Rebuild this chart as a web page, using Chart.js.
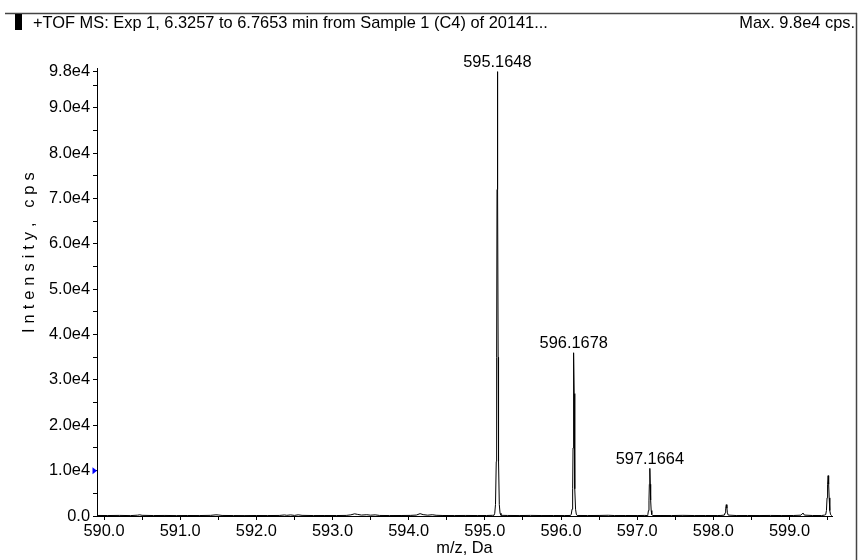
<!DOCTYPE html>
<html>
<head>
<meta charset="utf-8">
<script src="https://cdn.jsdelivr.net/npm/chart.js@4.4.1/dist/chart.umd.min.js"></script>
<style>
  html, body { margin: 0; padding: 0; background: #fff; }
  canvas { display: block; }
</style>
</head>
<body>
<canvas id="spectrum" width="859" height="560"></canvas>
<script>
// Header and axis texts
const headerText = '+TOF MS: Exp 1, 6.3257 to 6.7653 min from Sample 1 (C4) of 20141...';
const maxText = 'Max. 9.8e4 cps.';
const xTitle = 'm/z, Da';
const yTitle = 'Intensity, cps';

// Profile spectrum: m/z (Da) and intensity (cps)
const mz = [
  589.91, 590.05, 590.20, 590.35, 590.44, 590.47, 590.50, 590.65, 590.80, 590.95,
  591.10, 591.25, 591.40, 591.47, 591.50, 591.55, 591.70, 591.85, 592.00, 592.15,
  592.30, 592.37, 592.40, 592.45, 592.50, 592.55, 592.60, 592.75, 592.90, 593.05,
  593.18, 593.24, 593.29, 593.33, 593.38, 593.45, 593.50, 593.56, 593.62, 593.75,
  593.90, 594.02, 594.10, 594.15, 594.19, 594.25, 594.31, 594.36, 594.45, 594.60,
  594.75, 594.90, 595.02, 595.10,
  595.120, 595.130, 595.140, 595.150, 595.155, 595.160, 595.1648, 595.170, 595.175, 595.180,
  595.190, 595.200, 595.212,
  595.30, 595.45, 595.60, 595.75, 595.90, 596.05,
  596.125, 596.135, 596.145, 596.153, 596.158, 596.163, 596.1678, 596.173, 596.178, 596.183,
  596.191, 596.201, 596.212,
  596.35, 596.50, 596.62, 596.70, 596.85, 597.00, 597.10,
  597.130, 597.140, 597.148, 597.155, 597.160, 597.1664, 597.172, 597.177, 597.184, 597.192,
  597.203,
  597.30, 597.45, 597.60, 597.75, 597.90, 598.05, 598.10,
  598.145, 598.155, 598.162, 598.170, 598.178, 598.185, 598.195,
  598.30, 598.45, 598.60, 598.75, 598.90, 599.05, 599.15, 599.178, 599.195, 599.30,
  599.42, 599.46,
  599.475, 599.485, 599.493, 599.500, 599.507, 599.514, 599.521, 599.529, 599.539, 599.550,
  599.558
];
const intensity = [
  120, 100, 130, 90, 180, 260, 150, 100, 120, 90,
  110, 100, 140, 260, 230, 120, 100, 90, 110, 100,
  120, 230, 150, 240, 130, 260, 140, 100, 110, 100,
  130, 250, 480, 350, 200, 280, 180, 250, 120, 100,
  110, 130, 200, 520, 300, 180, 280, 160, 110, 100,
  120, 100, 110, 150,
  150, 600, 2500, 12000, 35000, 72000, 98000, 72000, 35000, 12000,
  2500, 600, 150,
  120, 100, 130, 100, 110, 100,
  120, 400, 1500, 6000, 15000, 27000, 36000, 27000, 15000, 6000,
  1500, 400, 120,
  100, 120, 160, 100, 110, 100, 130,
  100, 300, 1200, 3500, 7000, 10500, 7000, 3500, 1200, 300,
  100,
  110, 100, 140, 100, 110, 100, 120,
  200, 700, 1700, 2500, 1700, 700, 200,
  100, 110, 100, 120, 100, 110, 180, 650, 200, 110,
  100, 200,
  300, 1200, 4000, 7000, 8900, 7000, 4000, 1200, 300, 150,
  120
];

// Annotated peaks
const peakMz = [595.1648, 596.1678, 597.1664];
const peakIntensity = [98000, 36000, 10500];

// Axis ticks
const xMajorTicks = [590, 591, 592, 593, 594, 595, 596, 597, 598, 599];
const xTickLabels = ['590.0', '591.0', '592.0', '593.0', '594.0', '595.0', '596.0', '597.0', '598.0', '599.0'];
const xMinorTicks = [590.5, 591.5, 592.5, 593.5, 594.5, 595.5, 596.5, 597.5, 598.5, 599.5];
const yMajorTicks = [0, 10000, 20000, 30000, 40000, 50000, 60000, 70000, 80000, 90000, 98000];
const yTickLabels = ['0.0', '1.0e4', '2.0e4', '3.0e4', '4.0e4', '5.0e4', '6.0e4', '7.0e4', '8.0e4', '9.0e4', '9.8e4'];
const yMinorTicks = [5000, 15000, 25000, 35000, 45000, 55000, 65000, 75000, 85000, 95000];
const thresholdLevel = 10000;
const xRange = [589.908, 599.558];
const yMax = 98800;

const FONT = "'Liberation Sans', Arial, Helvetica, sans-serif";
const FONT_SIZE = 16.4;
Chart.defaults.font.family = FONT;
Chart.defaults.font.size = FONT_SIZE;
Chart.defaults.color = '#000';

// Frame, header, rotated y title, threshold marker and peak labels
const decorations = {
  id: 'decorations',
  afterDraw(chart) {
    const ctx = chart.ctx;
    const xs = chart.scales.x;
    const ys = chart.scales.y;
    ctx.save();

    // top rule and right border
    ctx.strokeStyle = '#444';
    ctx.lineWidth = 1.5;
    ctx.beginPath();
    ctx.moveTo(5, 13.5);
    ctx.lineTo(857, 13.5);
    ctx.moveTo(856.5, 13);
    ctx.lineTo(856.5, 560);
    ctx.stroke();

    // header block and texts
    ctx.fillStyle = '#000';
    ctx.fillRect(15, 14, 7, 16);
    ctx.font = FONT_SIZE + 'px ' + FONT;
    ctx.textBaseline = 'alphabetic';
    ctx.textAlign = 'left';
    ctx.fillText(headerText, 33, 27.5);
    ctx.textAlign = 'right';
    ctx.fillText(maxText, 855, 27.5);

    // letter-spaced y title
    ctx.save();
    ctx.translate(33.5, 333);
    ctx.rotate(-Math.PI / 2);
    ctx.textAlign = 'left';
    let pos = 0;
    for (const ch of yTitle) {
      ctx.fillText(ch, pos, 0);
      pos += ctx.measureText(ch).width + 5.0;
    }
    ctx.restore();

    // threshold marker on the y axis
    const ty = ys.getPixelForValue(thresholdLevel);
    const ax = chart.chartArea.left;
    ctx.fillStyle = '#0000ff';
    ctx.beginPath();
    ctx.moveTo(ax, ty);
    ctx.lineTo(ax - 4.5, ty - 3.5);
    ctx.lineTo(ax - 4.5, ty + 3.5);
    ctx.closePath();
    ctx.fill();

    // peak m/z labels
    ctx.fillStyle = '#000';
    ctx.textAlign = 'center';
    ctx.textBaseline = 'alphabetic';
    peakMz.forEach((m, i) => {
      const px = xs.getPixelForValue(m);
      const py = ys.getPixelForValue(peakIntensity[i]) - 4.5;
      ctx.fillText(m.toFixed(4), px, py);
    });

    ctx.restore();
  }
};

new Chart(document.getElementById('spectrum'), {
  type: 'line',
  data: {
    datasets: [{
      data: mz.map((x, i) => ({ x: x, y: intensity[i] })),
      borderColor: '#000',
      borderWidth: 1,
      pointRadius: 0,
      tension: 0,
      fill: false
    }]
  },
  options: {
    responsive: false,
    animation: false,
    events: [],
    layout: { padding: { left: 0, right: 27, top: 68, bottom: 0 } },
    plugins: { legend: { display: false }, tooltip: { enabled: false } },
    scales: {
      x: {
        type: 'linear',
        min: xRange[0],
        max: xRange[1],
        afterBuildTicks: (s) => {
          s.ticks = xMajorTicks.concat(xMinorTicks).sort((a, b) => a - b).map(v => ({ value: v }));
        },
        afterFit: (s) => { s.height = 44; },
        ticks: {
          autoSkip: false,
          maxRotation: 0,
          padding: 2,
          color: '#000',
          callback: (v) => {
            const i = xMajorTicks.indexOf(v);
            return i >= 0 ? xTickLabels[i] : '';
          }
        },
        grid: { drawOnChartArea: false, tickLength: 4, tickColor: '#000' },
        border: { color: '#000', width: 1 },
        title: { display: true, text: xTitle, color: '#000', padding: { top: 0, bottom: 2 } }
      },
      y: {
        type: 'linear',
        min: 0,
        max: yMax,
        afterBuildTicks: (s) => {
          s.ticks = yMajorTicks.concat(yMinorTicks).sort((a, b) => a - b).map(v => ({ value: v }));
        },
        afterFit: (s) => { s.width = 97; },
        ticks: {
          autoSkip: false,
          padding: 3,
          color: '#000',
          callback: (v) => {
            const i = yMajorTicks.indexOf(v);
            return i >= 0 ? yTickLabels[i] : '';
          }
        },
        grid: { drawOnChartArea: false, tickLength: 4, tickColor: '#000' },
        border: { color: '#000', width: 1 }
      }
    }
  },
  plugins: [decorations]
});
</script>
</body>
</html>
